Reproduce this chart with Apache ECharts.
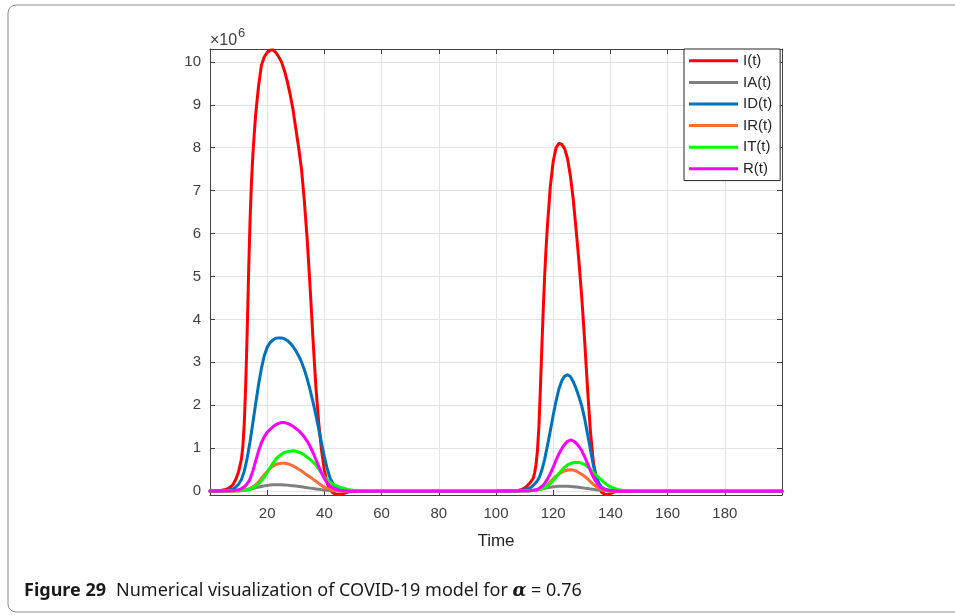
<!DOCTYPE html>
<html>
<head>
<meta charset="utf-8">
<script src="https://cdn.jsdelivr.net/npm/echarts@6/dist/echarts.min.js"></script>
<style>
html,body{margin:0;padding:0;background:#fff;}
#chart{width:955px;height:615px;}
</style>
</head>
<body>
<div id="chart"></div>
<script>
// Values in units of 10^6, time on x
const seriesNames = ['I(t)', 'IA(t)', 'ID(t)', 'IR(t)', 'IT(t)', 'R(t)'];
const yTicks = [0, 1, 2, 3, 4, 5, 6, 7, 8, 9, 10];

const I_data = [
  [0,0.01],[2,0.01],[4,0.02],[5,0.03],[6,0.05],[7,0.09],[8,0.15],[9,0.27],[10,0.45],[11,0.75],[11.5,1.05],[12,1.6],[12.5,2.5],[13,3.7],[13.5,5.1],[14,6.3],[14.5,7.2],[15,7.85],[15.5,8.35],[16,8.8],[17,9.45],[18,9.93],[19,10.12],[20,10.22],[21,10.27],[22,10.28],[23,10.22],[24,10.12],[25,10.0],[26,9.8],[27,9.55],[28,9.25],[29,8.9],[30,8.45],[31,8.0],[32,7.5],[33,6.75],[34,5.85],[35,4.75],[36,3.55],[37,2.45],[38,1.6],[39,0.95],[40,0.48],[41,0.18],[42,0.03],[43,-0.04],[44,-0.07],[45,-0.08],[46,-0.07],[47,-0.05],[48,-0.03],[49,-0.01],[50,0],
  [100,0],[105,0.01],[108,0.02],[109,0.04],[110,0.07],[111,0.13],[112,0.2],[113,0.3],[113.5,0.42],[114,0.62],[114.5,0.95],[115,1.5],[115.5,2.35],[116,3.3],[116.5,4.2],[117,5.0],[117.5,5.65],[118,6.2],[119,7.1],[120,7.68],[121,8.0],[122,8.1],[123,8.08],[124,7.98],[125,7.75],[126,7.35],[127,6.8],[128,6.1],[129,5.35],[130,4.5],[131,3.5],[132,2.4],[133,1.4],[134,0.7],[135,0.3],[136,0.08],[137,-0.03],[138,-0.07],[139,-0.08],[140,-0.06],[141,-0.03],[142,-0.01],[143,0],[200,0]
];
const IA_data = [
  [0,0],[11,0.01],[12,0.015],[13,0.025],[14,0.04],[15,0.06],[16,0.078],[17,0.095],[18,0.11],[19,0.123],[20,0.133],[21,0.141],[22,0.147],[23,0.15],[24,0.15],[25,0.148],[26,0.145],[27,0.14],[28,0.134],[29,0.127],[30,0.119],[31,0.11],[32,0.1],[33,0.09],[34,0.08],[35,0.07],[36,0.06],[37,0.051],[38,0.043],[39,0.035],[40,0.028],[41,0.021],[42,0.015],[43,0.01],[45,0.005],[48,0],
  [100,0],[111,0.01],[113,0.02],[114,0.027],[115,0.037],[116,0.05],[117,0.064],[118,0.078],[119,0.09],[120,0.1],[121,0.107],[122,0.112],[123,0.115],[124,0.115],[125,0.113],[126,0.109],[127,0.104],[128,0.097],[129,0.089],[130,0.08],[131,0.07],[132,0.06],[133,0.051],[134,0.042],[135,0.035],[136,0.027],[137,0.02],[138,0.015],[139,0.01],[141,0.005],[144,0],[200,0]
];
const ID_data = [
  [0,0],[4,0.01],[6,0.02],[7,0.03],[8,0.05],[9,0.09],[10,0.16],[11,0.27],[12,0.47],[13,0.77],[14,1.15],[15,1.6],[16,2.05],[17,2.49],[18,2.87],[19,3.16],[20,3.35],[21,3.46],[22,3.52],[23,3.56],[24,3.57],[25,3.57],[26,3.55],[27,3.51],[28,3.45],[29,3.37],[30,3.27],[31,3.15],[32,3.01],[33,2.83],[34,2.61],[35,2.36],[36,2.08],[37,1.78],[38,1.45],[39,1.12],[40,0.8],[41,0.52],[42,0.3],[43,0.17],[44,0.09],[45,0.05],[46,0.03],[47,0.02],[48,0.01],[50,0],
  [100,0],[108,0.01],[110,0.03],[111,0.05],[112,0.08],[113,0.13],[114,0.2],[115,0.3],[116,0.48],[117,0.74],[118,1.06],[119,1.41],[120,1.77],[121,2.1],[122,2.38],[123,2.57],[124,2.68],[125,2.71],[126,2.67],[127,2.55],[128,2.39],[129,2.2],[130,1.98],[131,1.69],[132,1.33],[133,0.97],[134,0.62],[135,0.35],[136,0.18],[137,0.09],[138,0.05],[139,0.03],[140,0.02],[142,0.01],[145,0],[200,0]
];
const IR_data = [
  [0,0],[10,0.01],[12,0.02],[13,0.04],[14,0.06],[15,0.1],[16,0.15],[17,0.22],[18,0.3],[19,0.38],[20,0.46],[21,0.53],[22,0.58],[23,0.62],[24,0.64],[25,0.65],[26,0.65],[27,0.64],[28,0.62],[29,0.59],[30,0.55],[31,0.51],[32,0.47],[33,0.42],[34,0.37],[35,0.33],[36,0.28],[37,0.23],[38,0.18],[39,0.13],[40,0.09],[41,0.06],[42,0.04],[43,0.02],[44,0.01],[46,0],
  [100,0],[112,0.01],[114,0.02],[115,0.04],[116,0.07],[117,0.1],[118,0.15],[119,0.22],[120,0.29],[121,0.35],[122,0.4],[123,0.44],[124,0.47],[125,0.49],[126,0.5],[127,0.49],[128,0.47],[129,0.43],[130,0.39],[131,0.34],[132,0.29],[133,0.22],[134,0.16],[135,0.11],[136,0.07],[137,0.04],[138,0.02],[139,0.01],[141,0],[200,0]
];
const IT_data = [
  [0,0],[10,0.01],[12,0.02],[13,0.03],[14,0.05],[15,0.08],[16,0.12],[17,0.17],[18,0.24],[19,0.33],[20,0.44],[21,0.55],[22,0.65],[23,0.74],[24,0.81],[25,0.86],[26,0.9],[27,0.92],[28,0.93],[29,0.94],[30,0.93],[31,0.91],[32,0.88],[33,0.84],[34,0.79],[35,0.74],[36,0.68],[37,0.61],[38,0.52],[39,0.42],[40,0.33],[41,0.26],[42,0.2],[43,0.16],[44,0.13],[45,0.1],[46,0.08],[47,0.06],[48,0.04],[50,0.02],[52,0.01],[55,0],
  [100,0],[112,0.01],[114,0.02],[115,0.03],[116,0.05],[117,0.08],[118,0.12],[119,0.18],[120,0.25],[121,0.33],[122,0.41],[123,0.49],[124,0.56],[125,0.61],[126,0.64],[127,0.66],[128,0.67],[129,0.67],[130,0.65],[131,0.62],[132,0.57],[133,0.51],[134,0.44],[135,0.37],[136,0.31],[137,0.25],[138,0.19],[139,0.14],[140,0.1],[141,0.07],[142,0.05],[143,0.03],[145,0.01],[148,0],[200,0]
];
const R_data = [
  [0,0],[8,0.01],[9,0.02],[10,0.03],[11,0.06],[12,0.1],[13,0.17],[14,0.28],[15,0.47],[16,0.71],[17,0.94],[18,1.13],[19,1.27],[20,1.37],[21,1.44],[22,1.5],[23,1.55],[24,1.58],[25,1.6],[26,1.6],[27,1.58],[28,1.55],[29,1.51],[30,1.46],[31,1.41],[32,1.34],[33,1.26],[34,1.16],[35,1.04],[36,0.9],[37,0.74],[38,0.58],[39,0.42],[40,0.29],[41,0.19],[42,0.12],[43,0.07],[44,0.04],[45,0.02],[47,0.01],[49,0],
  [100,0],[112,0.01],[113,0.02],[114,0.03],[115,0.06],[116,0.11],[117,0.18],[118,0.28],[119,0.41],[120,0.56],[121,0.72],[122,0.87],[123,0.99],[124,1.09],[125,1.16],[126,1.19],[127,1.17],[128,1.12],[129,1.04],[130,0.94],[131,0.8],[132,0.64],[133,0.48],[134,0.33],[135,0.22],[136,0.13],[137,0.07],[138,0.04],[139,0.02],[141,0.01],[143,0],[200,0]
];

const seriesData = [I_data, IA_data, ID_data, IR_data, IT_data, R_data];
const colors = ['#ff0000', '#808080', '#0072bd', '#ff6b35', '#00ff00', '#ff00ff'];

const axisColor = '#404040';
const gridColor = '#e3e3e3';
const FONT = '"Liberation Sans", Arial, sans-serif';

const chart = echarts.init(document.getElementById('chart'), null, {renderer: 'canvas'});

const xCommon = {
  type: 'value', min: 0, max: 200, interval: 20,
  axisLine: {show: true, onZero: false, lineStyle: {color: axisColor, width: 1}},
  axisTick: {show: true, inside: true, length: 5, lineStyle: {color: axisColor}},
};
const yCommon = {
  type: 'value', min: -0.09, max: 10.3,
  axisLine: {show: true, onZero: false, lineStyle: {color: axisColor, width: 1}},
  axisTick: {show: true, inside: true, length: 5, customValues: yTicks, lineStyle: {color: axisColor}},
};

const option = {
  animation: false,
  backgroundColor: '#ffffff',
  grid: {left: 210, right: 173, top: 49, bottom: 120, show: false},
  xAxis: [
    Object.assign({}, xCommon, {
      position: 'bottom',
      name: 'Time', nameLocation: 'middle', nameGap: 38,
      nameTextStyle: {fontFamily: FONT, fontSize: 17, color: '#262626'},
      axisLabel: {show: true, margin: 11, fontFamily: FONT, fontSize: 15, color: '#404040',
        showMinLabel: false, showMaxLabel: false},
      splitLine: {show: true, lineStyle: {color: gridColor, width: 1}}
    }),
    Object.assign({}, xCommon, {
      position: 'top',
      axisLabel: {show: false},
      splitLine: {show: false}
    })
  ],
  yAxis: [
    Object.assign({}, yCommon, {
      position: 'left',
      axisLabel: {show: true, margin: 9, fontFamily: FONT, fontSize: 15, color: '#404040', customValues: yTicks},
      splitLine: {show: true, lineStyle: {color: gridColor, width: 1}}
    }),
    Object.assign({}, yCommon, {
      position: 'right',
      axisLabel: {show: false},
      splitLine: {show: false}
    })
  ],
  legend: {
    data: seriesNames,
    orient: 'vertical',
    left: 684, top: 49,
    padding: [1, 8, 1, 5],
    icon: 'rect',
    itemWidth: 49, itemHeight: 3, itemGap: 0,
    backgroundColor: '#ffffff',
    borderColor: '#262626', borderWidth: 1,
    textStyle: {fontFamily: FONT, fontSize: 15, color: '#262626', lineHeight: 21.6},
    selectedMode: false
  },
  series: seriesNames.map((name, i) => ({
    name: name,
    type: 'line',
    xAxisIndex: 0, yAxisIndex: 0,
    data: seriesData[i],
    showSymbol: false, symbol: 'none',
    smooth: false,
    clip: true,
    color: colors[i],
    lineStyle: {color: colors[i], width: 3, join: 'round', cap: 'round'}
  })),
  graphic: [
    {
      type: 'rect', silent: true, z: -10,
      shape: {x: 8, y: 5, width: 1000, height: 607, r: 8},
      style: {fill: 'none', stroke: '#8c8c8c', lineWidth: 1}
    },
    {
      type: 'text', left: 210, top: 33, silent: true,
      style: {text: '×10', fontSize: 16, fontFamily: FONT, fill: '#404040'}
    },
    {
      type: 'text', left: 238, top: 27, silent: true,
      style: {text: '6', fontSize: 13, fontFamily: FONT, fill: '#404040'}
    },
    {
      type: 'text', left: 24, top: 582, silent: true,
      style: {
        text: '{b|Figure 29}   {n|Numerical visualization of COVID-19 model for }{a|α}{n| = 0.76}',
        rich: {
          b: {fontWeight: 'bold', fontSize: 18, fontFamily: '"Noto Sans", sans-serif', fill: '#1a1a1a'},
          n: {fontSize: 18, fontFamily: '"Noto Sans", sans-serif', fill: '#1a1a1a'},
          a: {fontStyle: 'italic', fontWeight: 'bold', fontSize: 18, fontFamily: '"DejaVu Serif", serif', fill: '#1a1a1a'}
        }
      }
    }
  ]
};

chart.setOption(option);
</script>
</body>
</html>
